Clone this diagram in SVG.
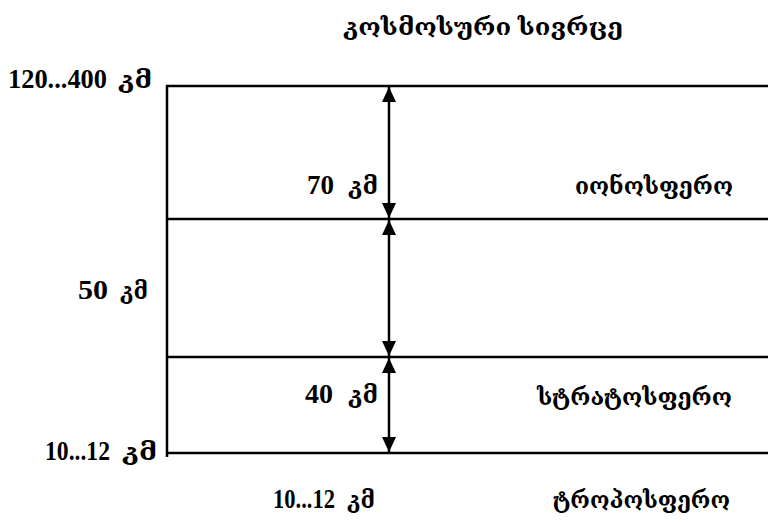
<svg xmlns="http://www.w3.org/2000/svg" width="768" height="525" viewBox="0 0 768 525">
<style>
text{font-family:"Liberation Serif","DejaVu Serif",serif;font-size:27px;font-weight:bold;fill:#000}
.ge{font-size:23px}
.ln{stroke:#000;stroke-width:2.5;fill:none}
.ar{stroke:#000;stroke-width:2.5;fill:none;marker-start:url(#ah);marker-end:url(#ah)}
</style>
<defs>
<marker id="ah" viewBox="0 0 15 14" refX="15" refY="7" markerWidth="6" markerHeight="5.6" orient="auto-start-reverse" markerUnits="strokeWidth">
<path d="M0,0 L15,7 L0,14 Z" fill="#000"/>
</marker>
</defs>
<rect width="768" height="525" fill="#fff"/>
<g id="axes">
<line class="ln" x1="167" y1="85" x2="167" y2="457"/>
<line class="ln" x1="166" y1="86" x2="768" y2="86"/>
<line class="ln" x1="166" y1="219" x2="768" y2="219"/>
<line class="ln" x1="166" y1="357" x2="768" y2="357"/>
<line class="ln" x1="166" y1="453" x2="768" y2="453"/>
</g>
<g id="connectors">
<line class="ar" x1="389" y1="87" x2="389" y2="218"/>
<line class="ar" x1="389" y1="220" x2="389" y2="356"/>
<line class="ar" x1="389" y1="358" x2="389" y2="452"/>
</g>
<g id="labels">
<text class="ge" x="343" y="35" textLength="280" lengthAdjust="spacingAndGlyphs">კოსმოსური სივრცე</text>
<text x="8" y="88" textLength="99" lengthAdjust="spacingAndGlyphs">120...400</text>
<text class="ge" x="118" y="88" textLength="34" lengthAdjust="spacingAndGlyphs">კმ</text>
<text x="307" y="194" textLength="27" lengthAdjust="spacingAndGlyphs">70</text>
<text class="ge" x="348" y="194" textLength="30" lengthAdjust="spacingAndGlyphs">კმ</text>
<text class="ge" x="575" y="194" textLength="158" lengthAdjust="spacingAndGlyphs">იონოსფერო</text>
<text x="78" y="299" textLength="30" lengthAdjust="spacingAndGlyphs">50</text>
<text class="ge" x="120" y="299" textLength="28" lengthAdjust="spacingAndGlyphs">კმ</text>
<text x="305" y="403" textLength="28" lengthAdjust="spacingAndGlyphs">40</text>
<text class="ge" x="348" y="403" textLength="30" lengthAdjust="spacingAndGlyphs">კმ</text>
<text class="ge" x="537" y="405" textLength="195" lengthAdjust="spacingAndGlyphs">სტრატოსფერო</text>
<text x="45" y="460" textLength="65" lengthAdjust="spacingAndGlyphs">10...12</text>
<text class="ge" x="122" y="460" textLength="35" lengthAdjust="spacingAndGlyphs">კმ</text>
<text x="273" y="508" textLength="62" lengthAdjust="spacingAndGlyphs">10...12</text>
<text class="ge" x="347" y="508" textLength="28" lengthAdjust="spacingAndGlyphs">კმ</text>
<text class="ge" x="553" y="508" textLength="177" lengthAdjust="spacingAndGlyphs">ტროპოსფერო</text>
</g>
</svg>
